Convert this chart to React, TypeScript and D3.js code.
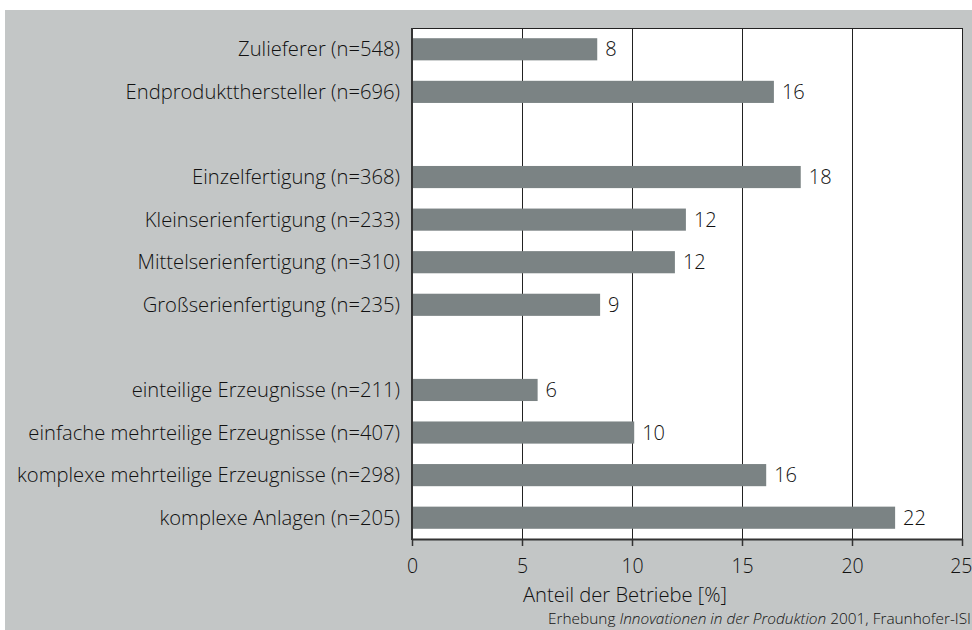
import React, { useRef, useEffect } from 'react';
import * as d3 from 'd3';

// Kategorien (leere Einträge = Abstand zwischen den Gruppen)
const categories = [
  'Zulieferer (n=548)',
  'Endproduktthersteller (n=696)',
  '',
  'Einzelfertigung (n=368)',
  'Kleinserienfertigung (n=233)',
  'Mittelserienfertigung (n=310)',
  'Großserienfertigung (n=235)',
  ' ',
  'einteilige Erzeugnisse (n=211)',
  'einfache mehrteilige Erzeugnisse (n=407)',
  'komplexe mehrteilige Erzeugnisse (n=298)',
  'komplexe Anlagen (n=205)',
];
const values = [8.42, 16.45, null, 17.67, 12.45, 11.95, 8.55, null, 5.71, 10.1, 16.1, 21.96];
const valueLabels = ['8', '16', '', '18', '12', '12', '9', '', '6', '10', '16', '22'];
const xTicks = [0, 5, 10, 15, 20, 25];

const FONT = '"Open Sans", Lato, "DejaVu Sans", sans-serif';
const INK = '#111';

export default function App() {
  const ref = useRef<SVGSVGElement>(null);

  useEffect(() => {
    document.body.style.margin = '0';
    if (!ref.current) return;
    const svg = d3.select(ref.current);
    svg.selectAll('*').remove();

    const left = 412, right = 962, top = 28, bottom = 539;

    const x = d3.scaleLinear().domain([0, 25]).range([left, right]);
    const y = d3.scaleBand<string>()
      .domain(categories)
      .range([top, bottom])
      .paddingInner(0.48)
      .paddingOuter(0.24);

    // Hintergrund
    svg.append('rect')
      .attr('x', 5).attr('y', 10)
      .attr('width', 967).attr('height', 620)
      .attr('fill', '#c3c6c6');

    // Plotfläche
    svg.append('rect')
      .attr('x', left).attr('y', top)
      .attr('width', right - left).attr('height', bottom - top)
      .attr('fill', '#ffffff');

    // Gitterlinien
    svg.append('g')
      .selectAll('line')
      .data(xTicks.slice(1))
      .enter()
      .append('line')
      .attr('x1', d => x(d) + 0.5).attr('x2', d => x(d) + 0.5)
      .attr('y1', top).attr('y2', bottom)
      .attr('stroke', '#222')
      .attr('stroke-width', 1);

    // obere Kante
    svg.append('line')
      .attr('x1', left).attr('x2', right + 1)
      .attr('y1', top + 0.5).attr('y2', top + 0.5)
      .attr('stroke', '#222');

    // Balken
    const rows = categories.map((c, i) => ({ c, v: values[i], label: valueLabels[i] }))
      .filter(d => d.v !== null);

    svg.append('g')
      .selectAll('rect')
      .data(rows)
      .enter()
      .append('rect')
      .attr('x', x(0))
      .attr('y', d => y(d.c)!)
      .attr('width', d => x(d.v as number) - x(0))
      .attr('height', y.bandwidth())
      .attr('fill', '#7b8384');

    // Wertelabels
    svg.append('g')
      .selectAll('text')
      .data(rows)
      .enter()
      .append('text')
      .attr('x', d => x(d.v as number) + 8)
      .attr('y', d => y(d.c)! + y.bandwidth() / 2)
      .attr('dy', '0.35em')
      .attr('font-family', FONT)
      .attr('font-weight', 300)
      .attr('font-size', 20)
      .attr('fill', INK)
      .text(d => d.label);

    // Kategorienlabels
    svg.append('g')
      .selectAll('text')
      .data(rows)
      .enter()
      .append('text')
      .attr('x', left - 12)
      .attr('y', d => y(d.c)! + y.bandwidth() / 2)
      .attr('dy', '0.35em')
      .attr('text-anchor', 'end')
      .attr('font-family', FONT)
      .attr('font-weight', 300)
      .attr('font-size', 20.2)
      .attr('fill', INK)
      .text(d => d.c);

    // X-Achse
    const xAxis = d3.axisBottom(x)
      .tickValues(xTicks)
      .tickSize(7)
      .tickPadding(13)
      .tickSizeOuter(0);

    const gx = svg.append('g')
      .attr('transform', `translate(0, ${bottom})`)
      .call(xAxis);
    gx.select('.domain').attr('stroke', '#333').attr('stroke-width', 2);
    gx.selectAll('.tick line').attr('stroke', '#333').attr('stroke-width', 1.5);
    gx.selectAll('.tick text')
      .attr('font-family', FONT)
      .attr('font-weight', 300)
      .attr('font-size', 19.5)
      .attr('fill', INK);
    // letzte Beschriftung am Rand leicht nach links
    gx.selectAll<SVGTextElement, number>('.tick text')
      .filter(d => d === 25)
      .attr('text-anchor', 'end')
      .attr('dx', 10);

    // Y-Achsenlinie
    svg.append('line')
      .attr('x1', left).attr('x2', left)
      .attr('y1', top).attr('y2', bottom + 1)
      .attr('stroke', '#333')
      .attr('stroke-width', 2);

    // Achsentitel
    svg.append('text')
      .attr('x', 625).attr('y', 595)
      .attr('dy', '0.35em')
      .attr('text-anchor', 'middle')
      .attr('font-family', FONT)
      .attr('font-weight', 300)
      .attr('font-size', 20.2)
      .attr('fill', INK)
      .text('Anteil der Betriebe [%]');

    // Quelle
    const src = svg.append('text')
      .attr('x', 971).attr('y', 619)
      .attr('dy', '0.35em')
      .attr('text-anchor', 'end')
      .attr('font-family', FONT)
      .attr('font-weight', 300)
      .attr('font-size', 15.4)
      .attr('fill', INK);
    src.append('tspan').text('Erhebung ');
    src.append('tspan').attr('font-style', 'italic').text('Innovationen in der Produktion');
    src.append('tspan').text(' 2001, Fraunhofer-ISI');
  });

  return <svg ref={ref} width={972} height={630} style={{ display: 'block' }} />;
}
